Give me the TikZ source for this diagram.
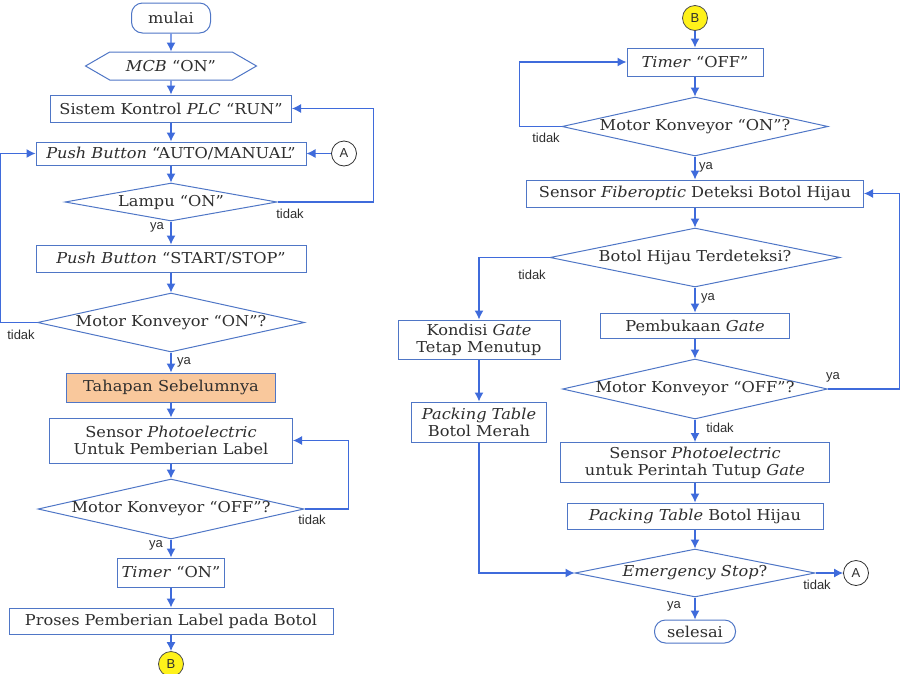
\documentclass[tikz,border=0pt]{standalone}
\usepackage{fontspec}
\setmainfont{DejaVu Serif}[FakeStretch=1.08]
\newfontfamily\lblfont{Liberation Sans}
\usetikzlibrary{shapes.geometric,shapes.symbols,arrows.meta}
\definecolor{linkblue}{HTML}{3F6BDB}
\definecolor{edgeblue}{HTML}{4F76C6}
\definecolor{tahapfill}{HTML}{F9C89C}
\definecolor{circyellow}{HTML}{FFF21A}
\definecolor{txtgray}{HTML}{2E2E2E}
\begin{document}
\begin{tikzpicture}[x=1pt, y=-1pt,
    every node/.style={text=txtgray, font=\fontsize{15}{17}\selectfont},
    box/.style={draw=edgeblue, line width=1pt, fill=white, inner sep=1pt, align=center},
    term/.style={box, rounded corners=11pt},
    hexa/.style={box, shape=signal, signal to=west and east, signal pointer angle=60},
    dec/.style={draw=edgeblue, line width=1pt, shape=diamond, inner sep=0pt, shape aspect=#1},
    conn/.style={draw=txtgray, circle, line width=0.8pt, minimum size=25pt, inner sep=0pt, font=\lblfont\fontsize{13}{14}\selectfont},
    connB/.style={conn, fill=circyellow, draw=black!70},
    arr/.style={draw=linkblue, line width=1.2pt, -{Latex[length=9pt,width=9pt]}},
    lbl/.style={font=\lblfont\fontsize{13}{14}\selectfont, inner sep=0pt}]
\useasboundingbox (0,0) rectangle (900,673);

% kolom kiri
\node[term, minimum width=79, minimum height=30] (mulai) at (171,18) {mulai};
\node[hexa, minimum width=171, minimum height=28] (mcb) at (171,66) {\textit{MCB} “ON”};
\node[box, minimum width=241, minimum height=27] (plc) at (171,108.5) {Sistem Kontrol \textit{PLC} “RUN”};
\node[box, minimum width=270, minimum height=23] (auto) at (171,153.5) {\textit{Push Button} “AUTO/MANUAL”};
\node[conn] (A1) at (344,153.5) {A};
\node[dec=5.6, minimum width=212, minimum height=38] (lampu) at (171,202) {Lampu “ON”};
\node[box, minimum width=270, minimum height=27] (start) at (171,258.5) {\textit{Push Button} “START/STOP”};
\node[dec=4.5, minimum width=267, minimum height=59] (motor1) at (171,322.5) {Motor Konveyor “ON”?};
\node[box, fill=tahapfill, minimum width=209, minimum height=29] (tahap) at (171,387.5) {Tahapan Sebelumnya};
\node[box, minimum width=243, minimum height=45] (photo1) at (171,440.5) {Sensor \textit{Photoelectric}\\Untuk Pemberian Label};
\node[dec=4.4, minimum width=266, minimum height=60] (motor2) at (171,509) {Motor Konveyor “OFF”?};
\node[box, minimum width=107, minimum height=29] (timeron) at (171,572.5) {\textit{Timer} “ON”};
\node[box, minimum width=324, minimum height=26] (proses) at (171,621) {Proses Pemberian Label pada Botol};
\node[connB] (B1) at (171,664) {B};

% kolom kanan
\node[connB] (B2) at (695,18) {B};
\node[box, minimum width=136, minimum height=28] (timeroff) at (695,62) {\textit{Timer} “OFF”};
\node[dec=4.5, minimum width=266, minimum height=59] (motor3) at (695,126.5) {Motor Konveyor “ON”?};
\node[box, minimum width=337, minimum height=27] (fiber) at (695,193.5) {Sensor \textit{Fiberoptic} Deteksi Botol Hijau};
\node[dec=4.9, minimum width=290, minimum height=59] (hijau) at (695,257.5) {Botol Hijau Terdeteksi?};
\node[box, minimum width=162, minimum height=39] (kondisi) at (479,339.5) {Kondisi \textit{Gate}\\Tetap Menutup};
\node[box, minimum width=189, minimum height=25] (buka) at (695,325.5) {Pembukaan \textit{Gate}};
\node[dec=4.4, minimum width=265, minimum height=60] (motor4) at (695,389) {Motor Konveyor “OFF”?};
\node[box, minimum width=135, minimum height=40] (merah) at (479,422) {\textit{Packing Table}\\Botol Merah};
\node[box, minimum width=269, minimum height=40] (tutup) at (695,462.5) {Sensor \textit{Photoelectric}\\untuk Perintah Tutup \textit{Gate}};
\node[box, minimum width=256, minimum height=26] (hijaupack) at (695,516) {\textit{Packing Table} Botol Hijau};
\node[dec=5, minimum width=240, minimum height=48] (emerg) at (695,573) {\textit{Emergency Stop}?};
\node[conn] (A2) at (856,573) {A};
\node[term, minimum width=81, minimum height=23] (selesai) at (695,631.5) {selesai};

% alur kiri
\draw[arr] (mulai) -- (mcb);
\draw[arr] (mcb) -- (plc);
\draw[arr] (plc) -- (auto);
\draw[arr] (A1) -- (auto);
\draw[arr] (auto) -- (lampu);
\draw[arr] (lampu.east) -- ++(96,0) |- (plc.east);
\draw[arr] (lampu) -- (start);
\draw[arr] (start) -- (motor1);
\draw[arr] (motor1.west) -- ++(-37,0) |- (auto.west);
\draw[arr] (motor1) -- (tahap);
\draw[arr] (tahap) -- (photo1);
\draw[arr] (photo1) -- (motor2);
\draw[arr] (motor2.east) -- ++(44,0) |- (photo1.east);
\draw[arr] (motor2) -- (timeron);
\draw[arr] (timeron) -- (proses);
\draw[arr] (proses) -- (B1);

% alur kanan
\draw[arr] (B2) -- (timeroff);
\draw[arr] (timeroff) -- (motor3);
\draw[arr] (motor3.west) -- ++(-42,0) |- (timeroff.west);
\draw[arr] (motor3) -- (fiber);
\draw[arr] (fiber) -- (hijau);
\draw[arr] (hijau.west) -| (kondisi.north);
\draw[arr] (hijau) -- (buka);
\draw[arr] (buka) -- (motor4);
\draw[arr] (motor4.east) -- ++(72,0) |- (fiber.east);
\draw[arr] (motor4) -- (tutup);
\draw[arr] (tutup) -- (hijaupack);
\draw[arr] (hijaupack) -- (emerg);
\draw[arr] (kondisi) -- (merah);
\draw[arr] (merah.south) |- (emerg.west);
\draw[arr] (emerg) -- (A2);
\draw[arr] (emerg) -- (selesai);

% label ya / tidak
\node[lbl] (t1) at (290,214) {tidak};
\node[lbl] (y1) at (157,227) {ya};
\node[lbl] (t2) at (21,335) {tidak};
\node[lbl] (y2) at (184,362) {ya};
\node[lbl] (t3) at (312,520) {tidak};
\node[lbl] (y3) at (156,545) {ya};
\node[lbl] (t4) at (546,138) {tidak};
\node[lbl] (y4) at (706,167) {ya};
\node[lbl] (t5) at (532,275) {tidak};
\node[lbl] (y5) at (708,298) {ya};
\node[lbl] (y6) at (833,377) {ya};
\node[lbl] (t6) at (720,428) {tidak};
\node[lbl] (t7) at (817,585) {tidak};
\node[lbl] (y7) at (674,606) {ya};
\end{tikzpicture}
\end{document}
